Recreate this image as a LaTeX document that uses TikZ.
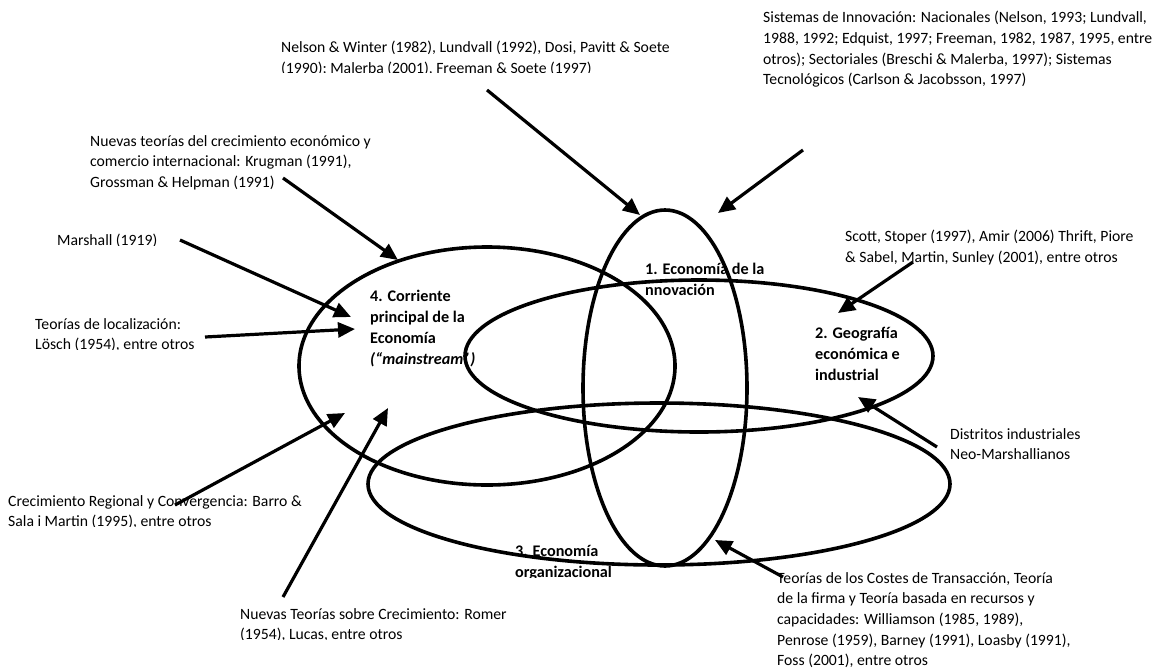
\documentclass[tikz,border=0pt]{standalone}
\usepackage{fontspec}
\setmainfont{Carlito}
\usetikzlibrary{arrows.meta,shapes.geometric}

\begin{document}
\begin{tikzpicture}[x=1pt,y=-1pt,
  ring/.style={ellipse,draw,line width=3.6pt,inner sep=0pt},
  lbl/.style={anchor=north west,inner sep=0pt,align=left,font=\fontsize{15.7}{20.7}\selectfont},
  ttl/.style={lbl,font=\fontsize{16.2}{20.9}\selectfont\bfseries},
  feed/.style={line width=3.2pt,-{Triangle[length=17pt,width=15pt]}},
  trim/.style={fill=white,draw=none}]

\useasboundingbox (0,0) rectangle (1161,670);

% school titles
\node[ttl] (tinnov) at (645,263) {1. Economía de la\\nnovación};
\node[ttl] (tmain) at (370,290) {4. Corriente\\principal de la\\Economía\\\textit{(“mainstream”)}};
\node[ttl] (tgeo) at (815,327) {2. Geografía\\económica e\\industrial};
\node[ttl] (torg) at (515,545) {3. Economía\\organizacional};

% references feeding each school
\node[lbl] (nelson) at (281,41) {Nelson \& Winter (1982), Lundvall (1992), Dosi, Pavitt \& Soete\\(1990); Malerba (2001), Freeman \& Soete (1997)};
\node[lbl] (sist) at (763,11) {Sistemas de Innovación: Nacionales (Nelson, 1993; Lundvall,\\1988, 1992; Edquist, 1997; Freeman, 1982, 1987, 1995, entre\\otros); Sectoriales (Breschi \& Malerba, 1997); Sistemas\\Tecnológicos (Carlson \& Jacobsson, 1997)};
\node[lbl] (nuevas) at (90,135) {Nuevas teorías del crecimiento económico y\\comercio internacional: Krugman (1991),\\Grossman \& Helpman (1991)};
\node[lbl] (marshall) at (57,234) {Marshall (1919)};
\node[lbl] (scott) at (845,230) {Scott, Stoper (1997), Amir (2006) Thrift, Piore\\\& Sabel, Martin, Sunley (2001), entre otros};
\node[lbl] (local) at (35,318) {Teorías de localización:\\Lösch (1954), entre otros};
\node[lbl] (distr) at (950,428) {Distritos industriales\\Neo-Marshallianos};
\node[lbl] (crec) at (8,495) {Crecimiento Regional y Convergencia: Barro \&\\Sala i Martin (1995), entre otros};
\node[lbl] (romer) at (240,608) {Nuevas Teorías sobre Crecimiento: Romer\\(1954), Lucas, entre otros};
\node[lbl] (costes) at (777,572) {Teorías de los Costes de Transacción, Teoría\\de la firma y Teoría basada en recursos y\\capacidades: Williamson (1985, 1989),\\Penrose (1959), Barney (1991), Loasby (1991),\\Foss (2001), entre otros};

% text boxes whose last line is cut just below the baseline
\foreach \t in {nelson,marshall,local,crec,romer,torg}
  \path[trim] ([yshift=2.4pt]\t.south west) rectangle ([yshift=-1pt]\t.south east);

% the four schools as overlapping ellipses
\node[ring,minimum width=164pt,minimum height=356pt] (innov) at (665,388) {};
\node[ring,minimum width=468pt,minimum height=152pt] (geo) at (699,356) {};
\node[ring,minimum width=582pt,minimum height=162pt] (org) at (659,484) {};
\node[ring,minimum width=376pt,minimum height=238pt] (main) at (487,366) {};

% arrow ends
\coordinate (a1s) at (487,90);  \coordinate (a1e) at (640,215);
\coordinate (a2s) at (803,150); \coordinate (a2e) at (718,213);
\coordinate (a3s) at (283,178); \coordinate (a3e) at (398,260);
\coordinate (a4s) at (180,240); \coordinate (a4e) at (351,317);
\coordinate (a5s) at (205,337); \coordinate (a5e) at (355,329);
\coordinate (a6s) at (175,505); \coordinate (a6e) at (345,413);
\coordinate (a7s) at (283,597); \coordinate (a7e) at (388,408);
\coordinate (a8s) at (913,262); \coordinate (a8e) at (838,313);
\coordinate (a9s) at (937,447); \coordinate (a9e) at (858,397);
\coordinate (a10s) at (783,577); \coordinate (a10e) at (715,540);

\foreach \k in {1,...,10} \draw[feed] (a\k s) -- (a\k e);
\end{tikzpicture}
\end{document}
